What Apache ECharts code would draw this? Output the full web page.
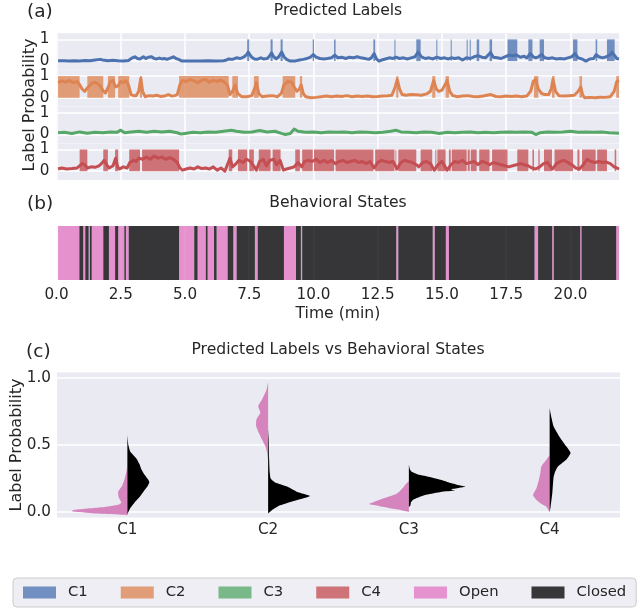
<!DOCTYPE html>
<html><head><meta charset="utf-8">
<script src="https://cdn.jsdelivr.net/npm/echarts@6/dist/echarts.min.js"></script>
<style>html,body{margin:0;padding:0;background:#fff}#c{width:638px;height:611px}</style>
</head><body><div id="c"></div><script>
// ---------------- DATA ----------------
const labelNames = ['C1', 'C2', 'C3', 'C4'];
const stateNames = ['Open', 'Closed'];
const xTickStep = 2.5;

// predicted label probability traces: [time (min), probability]
const c1Prob = [[0.06,0.02],[0.3,0.02],[0.5,0.0],[0.7,0.02],[0.9,0.01],[1.1,0.03],[1.3,0.02],[1.5,0.05],[1.7,0.08],[1.8,0.05],[2.0,0.02],[2.2,0.04],[2.4,0.02],[2.6,0.01],[2.8,0.03],[2.95,0.15],[3.05,0.2],[3.15,0.12],[3.25,0.1],[3.38,0.2],[3.48,0.12],[3.57,0.18],[3.7,0.2],[3.8,0.12],[3.9,0.1],[4.0,0.14],[4.1,0.1],[4.2,0.12],[4.3,0.08],[4.45,0.15],[4.55,0.2],[4.65,0.12],[4.75,0.08],[4.87,0.01],[5.0,0.0],[5.3,0.01],[5.6,0.0],[5.9,0.02],[6.2,0.0],[6.5,0.02],[6.62,0.05],[6.7,0.1],[6.85,0.08],[7.0,0.15],[7.15,0.12],[7.3,0.2],[7.4,0.3],[7.46,0.42],[7.52,0.3],[7.6,0.18],[7.7,0.1],[7.8,0.08],[7.95,0.15],[8.05,0.1],[8.2,0.12],[8.3,0.25],[8.37,0.38],[8.45,0.2],[8.55,0.1],[8.65,0.2],[8.76,0.42],[8.85,0.2],[8.95,0.08],[9.1,0.0],[9.3,0.01],[9.45,0.05],[9.6,0.08],[9.75,0.12],[9.9,0.2],[9.99,0.3],[10.1,0.18],[10.25,0.12],[10.4,0.1],[10.55,0.12],[10.7,0.15],[10.83,0.28],[10.95,0.15],[11.1,0.18],[11.25,0.12],[11.4,0.18],[11.55,0.15],[11.7,0.2],[11.85,0.15],[12.0,0.12],[12.15,0.08],[12.25,0.15],[12.36,0.35],[12.45,0.1],[12.55,0.0],[12.65,0.05],[12.8,0.1],[12.95,0.15],[13.1,0.12],[13.2,0.18],[13.35,0.12],[13.5,0.15],[13.65,0.1],[13.8,0.15],[13.95,0.2],[14.07,0.42],[14.2,0.2],[14.35,0.12],[14.5,0.15],[14.65,0.1],[14.8,0.18],[14.95,0.12],[15.1,0.15],[15.25,0.1],[15.36,0.15],[15.5,0.12],[15.65,0.15],[15.8,0.05],[15.95,0.15],[16.1,0.12],[16.25,0.2],[16.4,0.25],[16.55,0.18],[16.7,0.15],[16.89,0.4],[17.0,0.18],[17.15,0.15],[17.3,0.12],[17.45,0.2],[17.6,0.28],[17.75,0.25],[17.9,0.28],[18.05,0.18],[18.2,0.22],[18.3,0.15],[18.44,0.35],[18.55,0.2],[18.65,0.15],[18.75,0.2],[18.88,0.3],[19.0,0.15],[19.15,0.12],[19.3,0.15],[19.45,0.1],[19.6,0.12],[19.75,0.1],[19.9,0.15],[20.05,0.2],[20.17,0.35],[20.3,0.15],[20.45,0.1],[20.6,0.0],[20.75,0.1],[20.9,0.12],[21.0,0.3],[21.1,0.2],[21.25,0.15],[21.4,0.2],[21.55,0.3],[21.62,0.4],[21.72,0.25],[21.8,0.12],[21.89,0.1]];
const c2Prob = [[0.06,0.7],[0.2,0.78],[0.35,0.72],[0.5,0.8],[0.65,0.7],[0.8,0.75],[0.9,0.6],[1.0,0.4],[1.1,0.3],[1.2,0.45],[1.35,0.65],[1.5,0.72],[1.6,0.65],[1.7,0.55],[1.8,0.35],[1.9,0.22],[2.0,0.45],[2.1,0.75],[2.2,0.8],[2.3,0.5],[2.4,0.55],[2.5,0.75],[2.6,0.7],[2.7,0.78],[2.8,0.6],[2.9,0.15],[3.0,0.1],[3.1,0.1],[3.2,0.3],[3.28,0.9],[3.35,0.3],[3.45,0.05],[3.6,0.1],[3.75,0.08],[3.9,0.12],[4.05,0.06],[4.2,0.08],[4.35,0.15],[4.5,0.08],[4.6,0.1],[4.7,0.15],[4.8,0.6],[4.9,0.8],[5.05,0.75],[5.2,0.85],[5.35,0.78],[5.5,0.7],[5.65,0.8],[5.8,0.85],[5.95,0.72],[6.1,0.8],[6.25,0.75],[6.4,0.82],[6.55,0.7],[6.65,0.6],[6.75,0.15],[6.85,0.3],[6.95,0.6],[7.05,0.2],[7.2,0.05],[7.4,0.05],[7.6,0.1],[7.7,0.4],[7.78,0.7],[7.87,0.2],[8.0,0.05],[8.2,0.08],[8.4,0.1],[8.6,0.05],[8.75,0.2],[8.85,0.6],[9.0,0.75],[9.15,0.72],[9.25,0.5],[9.35,0.3],[9.45,0.4],[9.52,0.6],[9.6,0.2],[9.7,0.05],[9.9,0.0],[10.1,0.02],[10.3,0.05],[10.5,0.08],[10.7,0.05],[10.9,0.08],[11.1,0.06],[11.3,0.1],[11.5,0.05],[11.7,0.08],[11.9,0.06],[12.1,0.08],[12.3,0.05],[12.5,0.06],[12.7,0.08],[12.9,0.1],[13.05,0.12],[13.18,0.5],[13.26,0.85],[13.35,0.4],[13.45,0.15],[13.6,0.12],[13.8,0.15],[14.0,0.14],[14.2,0.12],[14.4,0.18],[14.55,0.3],[14.68,0.8],[14.78,0.4],[14.88,0.3],[15.0,0.35],[15.12,0.6],[15.2,0.8],[15.3,0.3],[15.42,0.1],[15.6,0.05],[15.8,0.08],[16.0,0.1],[16.2,0.06],[16.4,0.05],[16.6,0.08],[16.9,0.15],[17.1,0.06],[17.3,0.05],[17.5,0.08],[17.7,0.06],[17.9,0.08],[18.1,0.05],[18.3,0.08],[18.45,0.3],[18.55,0.75],[18.65,0.85],[18.75,0.4],[18.88,0.2],[19.0,0.15],[19.15,0.15],[19.25,0.4],[19.32,0.85],[19.42,0.3],[19.55,0.1],[19.75,0.08],[19.95,0.1],[20.15,0.12],[20.3,0.3],[20.4,0.5],[20.47,0.15],[20.55,0.0],[20.75,0.02],[20.95,0.0],[21.15,0.03],[21.35,0.02],[21.55,0.05],[21.7,0.3],[21.8,0.75],[21.89,0.8]];
const c3Prob = [[0.06,0.08],[0.3,0.1],[0.6,0.05],[0.9,0.12],[1.2,0.06],[1.5,0.1],[1.8,0.08],[2.1,0.12],[2.35,0.1],[2.5,0.2],[2.65,0.08],[2.9,0.12],[3.2,0.15],[3.5,0.1],[3.8,0.15],[4.1,0.12],[4.4,0.15],[4.7,0.08],[4.85,0.02],[5.0,0.05],[5.3,0.1],[5.6,0.08],[5.9,0.12],[6.2,0.1],[6.5,0.15],[6.8,0.2],[7.0,0.15],[7.3,0.1],[7.6,0.12],[7.9,0.18],[8.2,0.12],[8.5,0.15],[8.75,0.05],[8.9,0.0],[9.1,0.05],[9.25,0.25],[9.4,0.15],[9.7,0.1],[10.0,0.12],[10.3,0.08],[10.6,0.12],[10.9,0.1],[11.2,0.12],[11.5,0.08],[11.8,0.12],[12.1,0.1],[12.4,0.08],[12.7,0.1],[13.0,0.15],[13.2,0.2],[13.4,0.12],[13.7,0.1],[14.0,0.08],[14.3,0.12],[14.6,0.1],[14.9,0.05],[15.2,0.1],[15.5,0.08],[15.8,0.1],[16.1,0.12],[16.4,0.08],[16.7,0.1],[17.0,0.08],[17.3,0.1],[17.6,0.12],[17.9,0.1],[18.2,0.12],[18.5,0.1],[18.65,0.0],[18.8,0.08],[19.1,0.12],[19.4,0.1],[19.7,0.12],[20.0,0.15],[20.3,0.1],[20.6,0.12],[20.9,0.1],[21.2,0.12],[21.5,0.08],[21.89,0.06]];
const c4Prob = [[0.06,0.1],[0.2,0.15],[0.4,0.1],[0.6,0.12],[0.8,0.15],[0.9,0.25],[1.0,0.35],[1.1,0.3],[1.2,0.15],[1.35,0.2],[1.5,0.18],[1.65,0.25],[1.75,0.35],[1.85,0.5],[1.95,0.3],[2.05,0.15],[2.2,0.25],[2.3,0.6],[2.38,0.2],[2.45,0.1],[2.6,0.2],[2.75,0.15],[2.85,0.4],[3.0,0.5],[3.1,0.45],[3.2,0.6],[3.35,0.55],[3.5,0.65],[3.65,0.55],[3.8,0.7],[3.95,0.6],[4.1,0.65],[4.25,0.55],[4.4,0.62],[4.55,0.55],[4.7,0.4],[4.8,0.15],[4.9,0.05],[5.05,0.1],[5.2,0.15],[5.35,0.1],[5.5,0.2],[5.65,0.12],[5.8,0.15],[5.95,0.1],[6.1,0.2],[6.25,0.05],[6.4,0.15],[6.55,0.0],[6.65,0.3],[6.75,0.6],[6.85,0.2],[6.95,0.3],[7.1,0.5],[7.25,0.4],[7.4,0.55],[7.55,0.45],[7.7,0.2],[7.78,0.05],[7.9,0.45],[8.05,0.55],[8.17,0.25],[8.3,0.5],[8.45,0.55],[8.57,0.3],[8.7,0.5],[8.83,0.05],[8.95,0.1],[9.1,0.15],[9.25,0.2],[9.4,0.4],[9.54,0.2],[9.65,0.45],[9.8,0.5],[9.95,0.45],[10.1,0.55],[10.25,0.4],[10.4,0.5],[10.55,0.4],[10.7,0.5],[10.85,0.35],[11.0,0.45],[11.15,0.5],[11.3,0.4],[11.45,0.45],[11.6,0.5],[11.75,0.4],[11.9,0.45],[12.05,0.35],[12.2,0.45],[12.36,0.15],[12.5,0.4],[12.65,0.5],[12.8,0.45],[12.95,0.4],[13.1,0.45],[13.25,0.1],[13.4,0.4],[13.55,0.5],[13.7,0.45],[13.85,0.4],[14.0,0.3],[14.1,0.2],[14.25,0.4],[14.4,0.45],[14.55,0.35],[14.7,0.05],[14.85,0.3],[15.0,0.45],[15.2,0.05],[15.35,0.3],[15.5,0.45],[15.65,0.4],[15.8,0.5],[15.95,0.35],[16.1,0.4],[16.25,0.45],[16.4,0.3],[16.55,0.45],[16.7,0.4],[16.85,0.3],[17.0,0.4],[17.15,0.35],[17.3,0.3],[17.45,0.25],[17.6,0.2],[17.75,0.25],[17.9,0.3],[18.05,0.35],[18.2,0.3],[18.35,0.25],[18.5,0.15],[18.65,0.1],[18.8,0.2],[18.95,0.35],[19.1,0.4],[19.3,0.1],[19.45,0.35],[19.6,0.45],[19.75,0.5],[19.9,0.4],[20.05,0.3],[20.2,0.15],[20.35,0.1],[20.5,0.3],[20.65,0.55],[20.8,0.45],[20.95,0.4],[21.1,0.45],[21.25,0.4],[21.4,0.42],[21.55,0.35],[21.7,0.2],[21.8,0.15],[21.89,0.1]];

// predicted label (arg-max) segments: boundaries and label of each segment
const predBounds = [0.06,0.9,1.2,1.82,2.0,2.28,2.4,2.83,3.25,3.33,4.77,6.7,6.84,7.06,7.42,7.5,7.68,7.87,8.33,8.41,8.72,8.8,9.29,9.47,9.56,9.97,10.02,10.8,10.86,12.33,12.4,13.15,13.19,13.22,13.3,14.0,14.17,14.62,14.74,14.78,14.82,15.14,15.27,15.34,15.38,15.96,16.0,16.08,16.12,16.35,16.45,16.85,16.95,17.55,17.93,18.36,18.52,18.58,18.75,18.8,18.97,19.28,19.38,20.1,20.27,20.35,20.45,20.98,21.04,21.42,21.72,21.78,21.89];
const predLabels = ['C2','C4','C2','C4','C2','C4','C2','C4','C2','C4','C2','C4','C2','C4','C1','C4','C2','C4','C1','C4','C1','C2','C4','C2','C4','C1','C4','C1','C4','C1','C4','C1','C4','C2','C4','C1','C4','C2','C4','C1','C4','C2','C4','C1','C4','C1','C4','C1','C4','C1','C4','C1','C4','C1','C4','C1','C4','C2','C4','C1','C4','C2','C4','C1','C4','C2','C4','C1','C4','C1','C4','C2'];

// behavioral state segments
const stateBounds = [0.06,0.89,1.04,1.12,1.25,1.30,1.37,1.82,2.04,2.28,2.40,2.64,2.70,2.81,4.77,5.36,5.49,5.81,5.88,6.13,6.23,6.66,6.88,7.01,7.72,7.83,8.85,9.32,9.51,9.56,13.22,13.30,14.64,14.72,15.15,15.27,18.60,18.74,19.29,19.35,20.38,20.43,21.78,21.89];
const stateLabels = ['Open','Closed','Open','Closed','Open','Closed','Open','Closed','Open','Closed','Open','Closed','Open','Closed','Open','Closed','Open','Closed','Open','Closed','Open','Closed','Open','Closed','Open','Closed','Open','Closed','Open','Closed','Open','Closed','Open','Closed','Open','Closed','Open','Closed','Open','Closed','Open','Closed','Open'];

// split violins: [label probability, density (% of category width)]
const openC1 = [[0.34,0],[0.3,0.7],[0.26,1.6],[0.22,2.8],[0.19,4.0],[0.17,5.5],[0.15,6.6],[0.11,6.2],[0.07,4.3],[0.055,6.4],[0.035,18.4],[0.015,38.3],[0.005,39.7],[-0.01,23.4],[-0.02,2.1],[-0.025,0]];
const closedC1 = [[0.575,0],[0.5,0.7],[0.45,2.1],[0.40,6.4],[0.36,8.5],[0.32,9.9],[0.28,12.1],[0.24,14.9],[0.22,15.6],[0.19,14.2],[0.15,11.3],[0.11,8.5],[0.07,5.0],[0.03,2.1],[0.0,0.7],[-0.02,0]];
const openC2 = [[0.97,0],[0.91,1.2],[0.84,4.3],[0.79,7.1],[0.74,5.5],[0.69,8.3],[0.64,8.5],[0.59,6.6],[0.54,4.3],[0.49,1.9],[0.44,0.7],[0.40,0.2],[0.38,0]];
const closedC2 = [[0.62,0],[0.55,0.4],[0.4,0.7],[0.3,1.1],[0.25,1.8],[0.22,5.0],[0.19,13.5],[0.15,20.6],[0.12,29.8],[0.09,20.6],[0.05,8.5],[0.015,2.8],[-0.01,0]];
const openC3 = [[0.23,0],[0.21,2.1],[0.18,4.3],[0.15,7.1],[0.13,9.9],[0.11,15.6],[0.09,21.3],[0.07,26.2],[0.06,28.4],[0.045,21.3],[0.03,14.2],[0.015,5.7],[0,0]];
const closedC3 = [[0.355,0],[0.32,0.7],[0.30,2.1],[0.28,6.4],[0.26,15.6],[0.24,22.7],[0.22,28.4],[0.20,35.5],[0.19,40.4],[0.18,35.5],[0.17,29.8],[0.16,32.6],[0.15,22.7],[0.13,12.8],[0.11,7.1],[0.09,2.8],[0.07,1.4],[0.05,1.1],[0.035,0]];
const openC4 = [[0.425,0],[0.39,2.3],[0.34,5.9],[0.29,6.6],[0.24,7.6],[0.176,9.4],[0.127,11.8],[0.09,9.4],[0.06,5.7],[0.04,2.3],[0,0]];
const closedC4 = [[0.774,0],[0.70,1.4],[0.64,2.8],[0.56,7.1],[0.49,11.8],[0.44,14.9],[0.39,11.8],[0.34,5.9],[0.30,3.9],[0.26,2.8],[0.14,1.9],[0.04,0.7],[0,0]];

// ---------------- STYLE / LAYOUT ----------------
const FONT = 'DejaVu Sans';
const TXT = '#262626';
const BG = '#EAEAF2';
const TICK_FS = 15.2;
const labelColors = ['#4C72B0', '#DD8452', '#55A868', '#C44E52'];
const stateColors = {Open: '#e377c2', Closed: '#000000'};
const violinColors = {Open: '#D584BD', Closed: '#000000'};
const SPAN_ALPHA = 0.77;
const X0 = 56.5, XW = 562.8;
const ROW_TOP = 33.3, ROW_STEP = 36.7, ROW_H = 36.5;
const rowYMin = -0.4, rowYMax = 1.28, rowYStep = 0.2;
const cYMin = -0.04, cYMax = 1.04, cYStep = 0.02;

const probs = [c1Prob, c2Prob, c3Prob, c4Prob];
const openViolins = [openC1, openC2, openC3, openC4];
const closedViolins = [closedC1, closedC2, closedC3, closedC4];

function tickColors(min, max, step, keep) {
  const vals = [];
  const n = Math.floor((max - min) / step + 1e-9);
  for (let k = 0; k <= n; k++) vals.push(min + k * step);
  if (max - vals[vals.length - 1] > 1e-9) vals.push(max);
  return vals.map(v => keep.some(x => Math.abs(x - v) < 1e-6) ? '#ffffff' : 'rgba(0,0,0,0)');
}

const predSegs = predLabels.map((l, i) => [predBounds[i], predBounds[i + 1], l]);
const stateSegs = stateLabels.map((l, i) => [stateBounds[i], stateBounds[i + 1], l]);

const grids = [], xAxes = [], yAxes = [], series = [];
const xMax = 21.9;

for (let r = 0; r < 4; r++) {
  grids.push({left: X0, width: XW, top: ROW_TOP + r * ROW_STEP, height: ROW_H, show: true, backgroundColor: BG, borderWidth: 0});
  xAxes.push({gridIndex: r, type: 'value', min: 0, max: xMax, interval: xTickStep,
    axisLine: {show: false}, axisTick: {show: false}, axisLabel: {show: false},
    splitLine: {show: true, lineStyle: {color: '#ffffff', width: 1.5}}});
  yAxes.push({gridIndex: r, type: 'value', min: rowYMin, max: rowYMax, interval: rowYStep,
    axisLine: {show: false}, axisTick: {show: false},
    axisLabel: {fontFamily: FONT, fontSize: TICK_FS, color: TXT, margin: 7,
      formatter: v => Math.abs(v) < 1e-6 ? '0' : (Math.abs(v - 1) < 1e-6 ? '1' : '')},
    splitLine: {show: true, showMinLine: true, showMaxLine: true,
      lineStyle: {color: tickColors(rowYMin, rowYMax, rowYStep, [0, 1]), width: 1.5}}});
  const name = labelNames[r];
  series.push({
    type: 'custom', name: name, xAxisIndex: r, yAxisIndex: r, z: 2, silent: true,
    data: predSegs.filter(s => s[2] === name).map(s => [s[0], s[1]]),
    encode: {x: [0, 1]},
    itemStyle: {color: labelColors[r], opacity: SPAN_ALPHA},
    renderItem: (params, api) => {
      const a = api.coord([api.value(0), 1]);
      const b = api.coord([api.value(1), 0]);
      return {type: 'rect', shape: {x: a[0], y: a[1], width: Math.max(b[0] - a[0], 0.8), height: b[1] - a[1]},
        style: {fill: labelColors[r], opacity: SPAN_ALPHA}};
    }
  });
  series.push({
    type: 'line', name: name, xAxisIndex: r, yAxisIndex: r, z: 3, silent: true,
    data: probs[r], showSymbol: false, symbol: 'none',
    lineStyle: {color: labelColors[r], width: 3, join: 'round'},
    itemStyle: {color: labelColors[r]}
  });
}

// panel (b)
grids.push({left: X0, width: XW, top: 226, height: 54, show: true, backgroundColor: BG, borderWidth: 0});
xAxes.push({gridIndex: 4, type: 'value', min: 0, max: xMax, interval: xTickStep,
  axisLine: {show: false}, axisTick: {show: false},
  axisLabel: {fontFamily: FONT, fontSize: TICK_FS, color: TXT, margin: 8,
    formatter: v => (Math.abs(v / xTickStep - Math.round(v / xTickStep)) < 1e-6) ? v.toFixed(1) : ''},
  splitLine: {show: true, lineStyle: {color: '#ffffff', width: 1.5}},
  name: 'Time (min)', nameLocation: 'middle', nameGap: 25.5,
  nameTextStyle: {fontFamily: FONT, fontSize: 15.6, color: TXT}});
yAxes.push({gridIndex: 4, type: 'value', min: 0, max: 1, show: false, splitLine: {show: false}});
stateNames.forEach(st => {
  series.push({
    type: 'custom', name: st, xAxisIndex: 4, yAxisIndex: 4, z: 2, silent: true,
    data: stateSegs.filter(s => s[2] === st).map(s => [s[0], s[1]]),
    encode: {x: [0, 1]},
    itemStyle: {color: stateColors[st], opacity: SPAN_ALPHA},
    renderItem: (params, api) => {
      const a = api.coord([api.value(0), 1]);
      const b = api.coord([api.value(1), 0]);
      return {type: 'rect', shape: {x: a[0], y: a[1], width: b[0] - a[0], height: b[1] - a[1]},
        style: {fill: stateColors[st], opacity: SPAN_ALPHA}};
    }
  });
});

// panel (c)
grids.push({left: 57, width: 563, top: 372.6, height: 144.8, show: true, backgroundColor: BG, borderWidth: 0});
xAxes.push({gridIndex: 5, type: 'category', data: labelNames, boundaryGap: true,
  axisLine: {show: false}, axisTick: {show: false}, splitLine: {show: false},
  axisLabel: {fontFamily: FONT, fontSize: TICK_FS, color: TXT, margin: 5}});
yAxes.push({gridIndex: 5, type: 'value', min: cYMin, max: cYMax, interval: cYStep,
  axisLine: {show: false}, axisTick: {show: false},
  axisLabel: {fontFamily: FONT, fontSize: TICK_FS, color: TXT, margin: 6,
    formatter: v => [0, 0.5, 1].some(x => Math.abs(x - v) < 1e-6) ? v.toFixed(1) : ''},
  splitLine: {show: true, showMinLine: true, showMaxLine: true,
    lineStyle: {color: tickColors(cYMin, cYMax, cYStep, [0, 0.5, 1]), width: 1.5}}});

function violinSeries(name, profiles, side) {
  return {
    type: 'custom', name: name + ' ', xAxisIndex: 5, yAxisIndex: 5, z: 2, silent: true,
    data: labelNames.map((c, i) => [i]),
    encode: {x: 0},
    itemStyle: {color: violinColors[name]},
    renderItem: (params, api) => {
      const ci = api.value(0);
      const prof = profiles[params.dataIndex];
      const cx = api.coord([ci, 0])[0];
      const bw = api.size([1, 0])[0];
      const pts = [[cx, api.coord([ci, prof[0][0]])[1]]];
      prof.forEach(([p, d]) => pts.push([cx + side * d / 100 * bw, api.coord([ci, p])[1]]));
      pts.push([cx, api.coord([ci, prof[prof.length - 1][0]])[1]]);
      return {type: 'polygon', shape: {points: pts, smooth: 0.15}, style: {fill: violinColors[name]}};
    }
  };
}
series.push(violinSeries('Open', openViolins, -1));
series.push(violinSeries('Closed', closedViolins, 1));

const titleStyle = {font: '15.6px "DejaVu Sans"', fill: TXT, align: 'center', verticalAlign: 'middle'};
const panelStyle = {font: '18.5px "DejaVu Sans"', fill: TXT, align: 'left', verticalAlign: 'middle'};
const graphic = [
  {type: 'text', x: 27, y: 12.5, style: Object.assign({text: '(a)'}, panelStyle)},
  {type: 'text', x: 338, y: 11, style: Object.assign({text: 'Predicted Labels'}, titleStyle)},
  {type: 'text', x: 30, y: 105, rotation: Math.PI / 2, style: Object.assign({text: 'Label Probability', font: '16px "DejaVu Sans"'}, titleStyle)},
  {type: 'text', x: 27, y: 204, style: Object.assign({text: '(b)'}, panelStyle)},
  {type: 'text', x: 338, y: 203, style: Object.assign({text: 'Behavioral States'}, titleStyle)},
  {type: 'text', x: 26, y: 352, style: Object.assign({text: '(c)'}, panelStyle)},
  {type: 'text', x: 338, y: 350, style: Object.assign({text: 'Predicted Labels vs Behavioral States'}, titleStyle)},
  {type: 'text', x: 16.5, y: 445, rotation: Math.PI / 2, style: Object.assign({text: 'Label Probability', font: '16px "DejaVu Sans"'}, titleStyle)}
];
graphic[2].style.font = '16px "DejaVu Sans"';
graphic[7].style.font = '16px "DejaVu Sans"';

const legendData = labelNames.map((n, i) => ({name: n, itemStyle: {color: labelColors[i], opacity: SPAN_ALPHA}}))
  .concat(stateNames.map(n => ({name: n, itemStyle: {color: stateColors[n], opacity: SPAN_ALPHA}})));

const chart = echarts.init(document.getElementById('c'), null, {renderer: 'canvas'});
chart.setOption({
  animation: false,
  grid: grids, xAxis: xAxes, yAxis: yAxes, series: series, graphic: graphic,
  legend: {
    left: 13, top: 578, orient: 'horizontal', icon: 'rect', selectedMode: false,
    itemWidth: 33, itemHeight: 12, itemGap: 33, padding: [7, 10, 7, 10],
    backgroundColor: '#EEEEF4', borderColor: '#CCCCCC', borderWidth: 1, borderRadius: 4,
    textStyle: {fontFamily: FONT, fontSize: 14.8, color: TXT, padding: [0, 0, 0, 7]},
    data: legendData
  }
});
</script></body></html>
